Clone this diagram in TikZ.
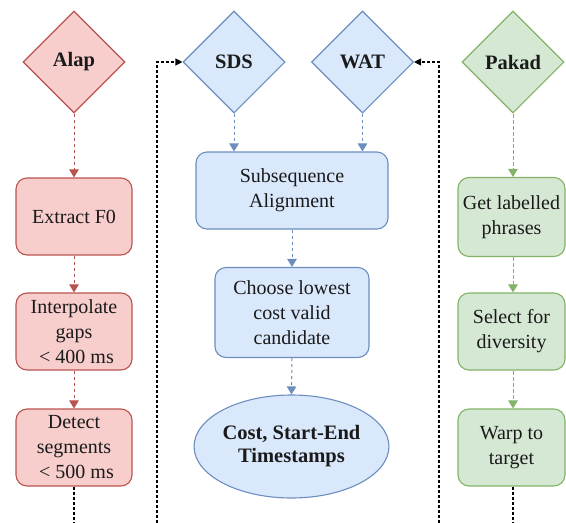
\documentclass[tikz,border=0pt]{standalone}
\usepackage{fontspec}
\setmainfont{Liberation Serif}
\usetikzlibrary{shapes.geometric,arrows.meta}
\definecolor{redfill}{HTML}{F8CECC}
\definecolor{redline}{HTML}{B85450}
\definecolor{bluefill}{HTML}{DAE8FC}
\definecolor{blueline}{HTML}{6C8EBF}
\definecolor{greenfill}{HTML}{D5E8D4}
\definecolor{greenline}{HTML}{82B366}
\definecolor{txt}{HTML}{1A1A1A}
\tikzset{
  every node/.style={font=\fontsize{20}{25}\selectfont, text=txt, align=center, line width=1.1pt},
  dia/.style={shape=diamond, aspect=1, inner sep=0pt, minimum width=102pt, minimum height=102pt, font=\fontsize{20.5}{25}\selectfont\bfseries},
  stepbox/.style={rectangle, rounded corners=11pt, inner sep=0pt},
  redc/.style={fill=redfill, draw=redline},
  bluec/.style={fill=bluefill, draw=blueline},
  greenc/.style={fill=greenfill, draw=greenline},
  flow/.style={line width=1pt, dash pattern=on 3pt off 3pt, -{Triangle[length=8pt,width=9.5pt]}},
  blk/.style={line width=1.1pt, black, dash pattern=on 3pt off 2pt},
}
\begin{document}
\begin{tikzpicture}[x=1pt,y=-1pt]
\useasboundingbox (0,0) rectangle (566,523);
% Alap column
\node[dia, redc] (alap) at (74,62) {Alap};
\node[stepbox, redc, minimum width=116pt, minimum height=77pt] (extract) at (74,216.5) {Extract F0};
\node[stepbox, redc, minimum width=116pt, minimum height=77pt] (interp) at (74,331.5) {Interpolate\\gaps\\ \ {<} 400 ms};
\node[stepbox, redc, minimum width=116pt, minimum height=77pt] (detect) at (74,447.5) {Detect\\segments\\ \ {<} 500 ms};
\draw[flow, redline] (alap.south) -- (extract.north);
\draw[flow, redline] (extract.south) -- (interp.north);
\draw[flow, redline] (interp.south) -- (detect.north);
% middle
\node[dia, bluec] (sds) at (234,62) {SDS};
\node[dia, bluec] (wat) at (362.5,62) {WAT};
\node[stepbox, bluec, minimum width=192pt, minimum height=77pt] (subseq) at (292,190.5) {Subsequence\\Alignment};
\node[stepbox, bluec, minimum width=154pt, minimum height=90pt] (choose) at (292,312.5) {Choose lowest\\cost valid\\candidate};
\node[ellipse, bluec, inner sep=0pt, minimum width=193pt, minimum height=103pt, font=\fontsize{20.5}{23}\selectfont\bfseries] (cost) at (291.5,446.5) {Cost, Start-End\\Timestamps};
\draw[flow, blueline] (sds.south) -- (sds.south |- subseq.north);
\draw[flow, blueline] (wat.south) -- (wat.south |- subseq.north);
\draw[flow, blueline] (subseq.south) -- (choose.north);
\draw[flow, blueline] (choose.south) -- (cost.north);
% Pakad column
\node[dia, greenc] (pakad) at (513,62) {Pakad};
\node[stepbox, greenc, minimum width=107pt, minimum height=79pt] (getlab) at (511.5,217) {Get labelled\\phrases};
\node[stepbox, greenc, minimum width=107pt, minimum height=77pt] (select) at (511.5,331.5) {Select for\\diversity};
\node[stepbox, greenc, minimum width=107pt, minimum height=77pt] (warp) at (511.5,447.5) {Warp to\\target};
\draw[flow, greenline, dash pattern=on 4pt off 2pt] (pakad.south) -- (pakad.south |- getlab.north);
\draw[flow, greenline, dash pattern=on 4pt off 2pt] (pakad.south |- getlab.south) -- (pakad.south |- select.north);
\draw[flow, greenline, dash pattern=on 4pt off 2pt] (pakad.south |- select.south) -- (pakad.south |- warp.north);
% black dashed connectors leaving the picture
\coordinate (b1) at (74,523);
\coordinate (b2) at (157,523);
\coordinate (b3) at (439,523);
\coordinate (b4) at (513,523);
\draw[blk] (detect.south) -- (b1);
\draw[blk, -{Triangle[length=7pt,width=7pt]}] (b2) |- (sds.west);
\draw[blk, -{Triangle[length=7pt,width=7pt]}] (b3) |- (wat.east);
\draw[blk] (pakad.south |- warp.south) -- (b4);
\end{tikzpicture}
\end{document}
